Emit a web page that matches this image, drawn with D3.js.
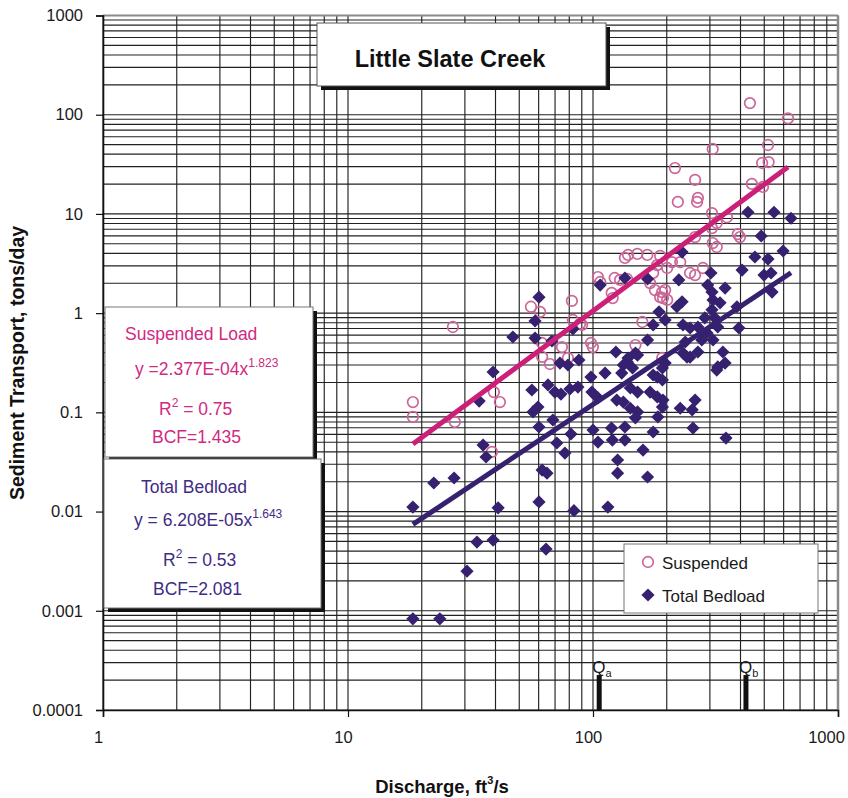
<!DOCTYPE html>
<html>
<head>
<meta charset="utf-8">
<script src="https://cdn.jsdelivr.net/npm/d3@7"></script>
<style>
  body { margin: 0; background: #fff; }
  svg { display: block; }
  text { font-family: "Liberation Sans", Arial, Helvetica, sans-serif; }
</style>
</head>
<body>
<svg id="chart" width="848" height="798"></svg>
<script>
// ---- data -------------------------------------------------------------
const chartTitle = "Little Slate Creek";
const yTickValues = [0.0001, 0.001, 0.01, 0.1, 1, 10, 100, 1000];
const yTickLabels = ["0.0001", "0.001", "0.01", "0.1", "1", "10", "100", "1000"];
const xTickValues = [1, 10, 100, 1000];
const xTickLabels = ["1", "10", "100", "1000"];

// Suspended load samples: discharge (ft3/s) and transport (tons/day)
const suspendedQ = [18.4, 18.4, 26.8, 27.3, 39.4, 41.7, 38.7, 55.8, 60.8, 82.0,
  88.5, 98.1, 99.9, 62.0, 66.7, 74.7, 79.0, 104.7, 107, 122.6,
  129, 137.8, 120.3, 119.2, 135, 139, 151.7, 166.6, 182.6, 200.8,
  210, 171, 179, 191.6, 197, 188, 193, 200.8, 82.8, 90.2,
  159, 61.9, 437, 625, 308, 518, 490, 521, 216, 261,
  222, 268, 266, 445, 494, 306, 320, 352, 306, 390,
  398, 261, 308, 320, 281, 249, 261, 227, 176, 149,
  191.6, 188];
const suspendedLoad = [0.127, 0.090, 0.725, 0.080, 0.160, 0.127, 0.040, 1.16, 1.03, 1.33,
  0.78, 0.50, 0.455, 0.363, 0.307, 0.455, 0.353, 2.31, 2.06, 2.26,
  2.16, 2.21, 1.42, 1.60, 3.60, 3.86, 3.95, 3.86, 3.05, 2.85,
  3.27, 2.01, 1.71, 1.63, 1.71, 1.45, 1.42, 1.36, 0.853, 0.76,
  0.814, 0.50, 131, 92, 45.1, 49.5, 32.6, 33.3, 29.0, 22.0,
  13.2, 14.5, 13.2, 20.1, 18.7, 10.2, 8.1, 9.26, 7.2, 6.27,
  5.85, 5.85, 5.09, 4.64, 2.85, 2.54, 2.42, 3.27, 2.54, 0.477,
  0.353, 3.77];

// Total bedload samples: discharge (ft3/s) and transport (tons/day)
const bedloadQ = [18.4, 18.4, 23.7, 22.4, 27.1, 30.6, 33.6, 39.1, 34.3, 39.1,
  35.6, 36.6, 41.0, 47.1, 58.0, 60.2, 58.0, 68.0, 56.3, 59.6,
  56.9, 60.2, 65.5, 69.9, 74.0, 68.6, 71.2, 76.8, 81.3, 62.0,
  64.9, 60.2, 64.3, 83.6, 115, 73.3, 79.0, 87.6, 80.5, 86.8,
  98.1, 99.0, 104.8, 112, 124, 133, 125, 100, 104.8, 119,
  120, 135, 126, 126, 135, 133, 82.8, 107, 135, 167,
  186, 197, 176, 167, 149, 429, 548, 643, 486, 458,
  518, 597, 406, 231, 224, 303, 346, 387, 499, 533,
  538, 394, 220, 231, 233, 249, 268, 323, 309, 233,
  249, 268, 339, 346, 323, 292, 278, 197, 306, 309,
  306, 330, 139, 152, 131, 145, 142, 152, 142, 152,
  149, 176, 192, 192, 171, 183, 193, 184, 192, 183,
  227, 254, 261, 256, 176, 160, 167, 242, 138, 320,
  349, 238, 286, 314, 294];
const bedloadLoad = [0.0111, 0.00083, 0.00083, 0.0194, 0.0218, 0.00251, 0.00493, 0.00516, 0.130, 0.255,
  0.0468, 0.0355, 0.0109, 0.575, 0.833, 1.45, 0.561, 0.524, 0.168, 0.113,
  0.101, 0.0712, 0.189, 0.160, 0.153, 0.0837, 0.0491, 0.0389, 0.0605, 0.0262,
  0.0244, 0.0125, 0.00419, 0.0102, 0.0111, 0.314, 0.300, 0.337, 0.172, 0.180,
  0.227, 0.160, 0.140, 0.249, 0.406, 0.300, 0.133, 0.0664, 0.0502, 0.0695,
  0.0526, 0.0526, 0.0331, 0.0244, 0.0712, 0.127, 0.692, 1.92, 2.26, 2.21,
  1.03, 0.853, 0.760, 0.536, 0.396, 10.4, 10.4, 9.05, 5.99, 3.68,
  3.51, 4.23, 2.72, 4.13, 2.16, 2.54, 1.79, 1.16, 2.42, 2.54,
  1.63, 0.708, 1.16, 1.30, 0.760, 0.708, 0.725, 0.725, 0.536, 0.396,
  0.361, 0.406, 0.406, 0.314, 0.287, 0.631, 0.536, 0.314, 1.63, 1.36,
  1.08, 1.27, 0.353, 0.378, 0.249, 0.280, 0.176, 0.160, 0.110, 0.101,
  0.088, 0.238, 0.280, 0.212, 0.160, 0.143, 0.133, 0.090, 0.113, 0.227,
  0.110, 0.106, 0.133, 0.0695, 0.0634, 0.0417, 0.0223, 0.361, 0.322, 0.267,
  0.0551, 0.512, 0.897, 0.897, 1.92];

// Power-law fits  y = a * x^b
const suspendedFit = { a: 2.377e-4, b: 1.823, r2: "0.75", bcf: "1.435" };
const bedloadFit = { a: 6.208e-5, b: 1.643, r2: "0.53", bcf: "2.081" };

// Reference discharges marked on the x axis
const markerNames = ["a", "b"];
const markerQ = [106, 421];
const markerTop = 0.000225;

// ---- styling ----------------------------------------------------------
const pinkText = "#d02a82";
const pinkLine = "#cc1f78";
const pinkMarker = "#cc6699";
const purple = "#35216f";
const purpleText = "#3f2c85";

const svg = d3.select("#chart");
const x = d3.scaleLog().domain([1, 1000]).range([103, 838]);
const y = d3.scaleLog().domain([0.0001, 1000]).range([710, 15.5]);

// ---- grid -------------------------------------------------------------
function logGrid(lo, hi) {
  const out = [];
  for (let d = lo; d < hi * 0.999; d *= 10) {
    for (let m = 1; m <= 9; m++) out.push(d * m);
  }
  out.push(hi);
  return out;
}
const grid = svg.append("g");
grid.selectAll("line.v").data(logGrid(1, 1000)).join("line")
  .attr("x1", d => x(d)).attr("x2", d => x(d))
  .attr("y1", y(1000)).attr("y2", y(0.0001))
  .attr("stroke", "#222").attr("stroke-width", 1.15);
grid.selectAll("line.h").data(logGrid(0.0001, 1000)).join("line")
  .attr("y1", d => y(d)).attr("y2", d => y(d))
  .attr("x1", x(1)).attr("x2", x(1000))
  .attr("stroke", "#222").attr("stroke-width", 1.15);

// plot frame
svg.append("line").attr("x1", x(1)).attr("x2", x(1000)).attr("y1", y(1000)).attr("y2", y(1000))
  .attr("stroke", "#8a8a8a").attr("stroke-width", 2);
svg.append("line").attr("x1", x(1000)).attr("x2", x(1000)).attr("y1", y(1000)).attr("y2", y(0.0001))
  .attr("stroke", "#8a8a8a").attr("stroke-width", 2.5);

// ---- axes -------------------------------------------------------------
const yAxis = d3.axisLeft(y).tickValues(yTickValues)
  .tickFormat((d, i) => yTickLabels[i]).tickSize(7).tickPadding(13);
const gy = svg.append("g").attr("transform", `translate(${x(1)},0)`).call(yAxis);
const xAxis = d3.axisBottom(x).tickValues(xTickValues)
  .tickFormat((d, i) => xTickLabels[i]).tickSize(7).tickPadding(14);
const gx = svg.append("g").attr("transform", `translate(0,${y(0.0001)})`).call(xAxis);
[gx, gy].forEach(g => {
  g.select(".domain").attr("stroke", "#111").attr("stroke-width", 1.6);
  g.selectAll(".tick line").attr("stroke", "#111").attr("stroke-width", 1.2);
  g.selectAll(".tick text").attr("font-size", 16.5).attr("fill", "#1a1a1a")
    .style("font-family", '"Liberation Sans", Arial, sans-serif');
});
// labels sit slightly left of their ticks; the last one is kept inside the frame
gx.selectAll(".tick text").attr("dx", (d, i) => i === xTickValues.length - 1 ? -12 : -5);

// axis titles
svg.append("text")
  .attr("transform", "translate(24,363) rotate(-90)")
  .attr("text-anchor", "middle").attr("font-weight", "bold").attr("font-size", 19.5)
  .attr("fill", "#111").text("Sediment Transport, tons/day");
const xt = svg.append("text").attr("x", 442).attr("y", 793)
  .attr("text-anchor", "middle").attr("font-weight", "bold").attr("font-size", 18.5).attr("fill", "#111");
xt.append("tspan").text("Discharge, ft");
xt.append("tspan").attr("font-size", 11).attr("dy", -9).text("3");
xt.append("tspan").attr("dy", 9).text("/s");

// ---- reference discharge markers -----------------------------------------
markerQ.forEach((q, i) => {
  svg.append("rect")
    .attr("x", x(q) - 2.5).attr("width", 5)
    .attr("y", y(markerTop)).attr("height", y(0.0001) - y(markerTop))
    .attr("fill", "#111");
  const t = svg.append("text").attr("x", x(q) - 7).attr("y", y(markerTop) - 2)
    .attr("font-size", 17).attr("fill", "#1a1a1a");
  t.append("tspan").text("Q");
  t.append("tspan").attr("font-size", 11).attr("dy", 4).text(markerNames[i]);
});

// ---- data points -------------------------------------------------------
const suspended = suspendedQ.map((q, i) => ({ q, v: suspendedLoad[i] }));
const bedload = bedloadQ.map((q, i) => ({ q, v: bedloadLoad[i] }));

svg.append("g").selectAll("circle").data(suspended).join("circle")
  .attr("cx", d => x(d.q)).attr("cy", d => y(d.v)).attr("r", 5.3)
  .attr("fill", "none").attr("stroke", pinkMarker).attr("stroke-width", 1.7);

const diamond = r => `M0,${-r}L${r},0L0,${r}L${-r},0Z`;
svg.append("g").selectAll("path").data(bedload).join("path")
  .attr("d", diamond(6.6))
  .attr("transform", d => `translate(${x(d.q)},${y(d.v)})`)
  .attr("fill", purple);

// ---- trend lines --------------------------------------------------------
function fitLine(fit, qs) {
  const [q0, q1] = d3.extent(qs);
  return [q0, q1].map(q => ({ q, v: fit.a * Math.pow(q, fit.b) }));
}
const line = d3.line().x(d => x(d.q)).y(d => y(d.v));
svg.append("path").datum(fitLine(bedloadFit, bedloadQ)).attr("d", line)
  .attr("fill", "none").attr("stroke", purple).attr("stroke-width", 5);
svg.append("path").datum(fitLine(suspendedFit, suspendedQ)).attr("d", line)
  .attr("fill", "none").attr("stroke", pinkLine).attr("stroke-width", 5);

// ---- title box ---------------------------------------------------------
function shadowBox(bx, by, bw, bh, stroke) {
  svg.append("rect").attr("x", bx + 4).attr("y", by + 4).attr("width", bw).attr("height", bh).attr("fill", "#111");
  svg.append("rect").attr("x", bx).attr("y", by).attr("width", bw).attr("height", bh)
    .attr("fill", "#fff").attr("stroke", stroke).attr("stroke-width", 1);
}
shadowBox(317, 23, 289, 63, "#555");
svg.append("text").attr("x", 450).attr("y", 67).attr("text-anchor", "middle")
  .attr("font-weight", "bold").attr("font-size", 23.5).attr("fill", "#111").text(chartTitle);

// ---- equation boxes ----------------------------------------------------
function equationBox(bx, by, bw, bh, color, name, fit, expo, rows) {
  shadowBox(bx, by, bw, bh, "#777");
  const g = svg.append("g").attr("fill", color).attr("font-size", 17.5);
  g.append("text").attr("x", rows.nameX).attr("y", rows.nameY).text(name);
  const eq = g.append("text").attr("x", rows.eqX).attr("y", rows.eqY);
  eq.append("tspan").text(rows.eqText);
  eq.append("tspan").attr("font-size", 12).attr("dy", -8).text(expo);
  const r = g.append("text").attr("x", rows.rX).attr("y", rows.rY);
  r.append("tspan").text("R");
  r.append("tspan").attr("font-size", 12).attr("dy", -8).text("2");
  r.append("tspan").attr("dy", 8).text("  = " + fit.r2);
  g.append("text").attr("x", rows.bX).attr("y", rows.bY).text("BCF=" + fit.bcf);
}
equationBox(105, 307, 208, 150, pinkText, "Suspended Load", suspendedFit, "1.823", {
  nameX: 125, nameY: 340, eqX: 135, eqY: 375, eqText: "y =2.377E-04x",
  rX: 159, rY: 415, bX: 152, bY: 443
});
equationBox(104, 459, 217, 149, purpleText, "Total Bedload", bedloadFit, "1.643", {
  nameX: 141, nameY: 493, eqX: 134, eqY: 526, eqText: "y = 6.208E-05x",
  rX: 163, rY: 566, bX: 153, bY: 595
});

// ---- legend -------------------------------------------------------------
const lg = svg.append("g");
lg.append("rect").attr("x", 624).attr("y", 544).attr("width", 194).attr("height", 69)
  .attr("fill", "#fff").attr("stroke", "#777").attr("stroke-width", 1);
lg.append("circle").attr("cx", 648).attr("cy", 562).attr("r", 5.3)
  .attr("fill", "none").attr("stroke", pinkMarker).attr("stroke-width", 1.7);
lg.append("path").attr("d", diamond(6.6)).attr("transform", "translate(648,595)").attr("fill", purple);
lg.append("text").attr("x", 662).attr("y", 569).attr("font-size", 17).attr("fill", "#1a1a1a").text("Suspended");
lg.append("text").attr("x", 662).attr("y", 602).attr("font-size", 17).attr("fill", "#1a1a1a").text("Total Bedload");
</script>
</body>
</html>
